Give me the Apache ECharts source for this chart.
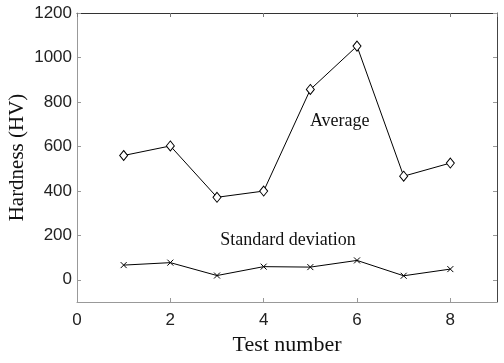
<!DOCTYPE html>
<html><head><meta charset="utf-8">
<script src="https://cdn.jsdelivr.net/npm/echarts@6/dist/echarts.min.js"></script>
<style>html,body{margin:0;padding:0;background:#fff}#c{width:504px;height:363px}</style>
</head><body><div id="c"></div>
<script>
const testNumbers = [1, 2, 3, 4, 5, 6, 7, 8];
const averageHV = [559, 602, 371, 399, 856, 1051, 466, 525];
const stdDevHV = [66, 77, 19, 59, 57, 87, 18, 48];
const yTickValues = [0, 200, 400, 600, 800, 1000, 1200];
const averageLabel = {text: 'Average', x: 5.63, y: 713};
const stdLabel = {text: 'Standard deviation', x: 4.52, y: 176};

const serif = 'Liberation Serif';
const sans = 'Liberation Sans';
const crossPath = 'path://M0,0L10,10M10,0L0,10';

const chart = echarts.init(document.getElementById('c'), null, {renderer: 'canvas'});
const pair = (xs, ys) => xs.map((x, i) => [x, ys[i]]);
const plain = v => String(v);

chart.setOption({
  animation: false,
  backgroundColor: '#fff',
  grid: {left: 77, right: 7, top: 13, bottom: 61, containLabel: false, outerBoundsMode: 'none'},
  xAxis: [{
    type: 'value', min: 0, max: 9, interval: 2,
    name: 'Test number', nameLocation: 'middle', nameGap: 32,
    nameTextStyle: {fontFamily: serif, fontSize: 22, color: '#111'},
    axisLine: {show: true, onZero: false, lineStyle: {color: '#999', width: 1}},
    axisTick: {show: true, inside: true, length: 4, lineStyle: {color: '#999'}},
    axisLabel: {fontFamily: sans, fontSize: 17, color: '#222', margin: 10, showMaxLabel: false, formatter: plain},
    splitLine: {show: false}
  }, {
    type: 'value', min: 0, max: 9, interval: 2, position: 'top',
    axisLine: {show: true, onZero: false, lineStyle: {color: '#333', width: 1}},
    axisTick: {show: true, inside: true, length: 4, lineStyle: {color: '#777'}},
    axisLabel: {show: false}, splitLine: {show: false}
  }],
  yAxis: [{
    type: 'value', min: -100, max: 1200,
    name: 'Hardness (HV)', nameLocation: 'middle', nameGap: 49, nameMoveOverlap: false,
    nameTextStyle: {fontFamily: serif, fontSize: 21, color: '#111'},
    axisLine: {show: true, onZero: false, lineStyle: {color: '#999', width: 1}},
    axisTick: {show: true, inside: true, length: 4, lineStyle: {color: '#999'}, customValues: yTickValues},
    axisLabel: {fontFamily: sans, fontSize: 17, color: '#222', margin: 5, customValues: yTickValues, formatter: plain},
    splitLine: {show: false}
  }, {
    type: 'value', min: -100, max: 1200, position: 'right',
    axisLine: {show: true, onZero: false, lineStyle: {color: '#444', width: 1}},
    axisTick: {show: true, inside: true, length: 4, lineStyle: {color: '#999'}, customValues: yTickValues},
    axisLabel: {show: false}, splitLine: {show: false}
  }],
  series: [{
    name: 'Average', type: 'line', xAxisIndex: 0, yAxisIndex: 0,
    data: pair(testNumbers, averageHV),
    symbol: 'diamond', symbolSize: [8, 10],
    lineStyle: {color: '#000', width: 1},
    itemStyle: {color: '#fff', borderColor: '#000', borderWidth: 1}
  }, {
    name: 'Standard deviation', type: 'line', xAxisIndex: 0, yAxisIndex: 0,
    data: pair(testNumbers, stdDevHV),
    symbol: crossPath, symbolSize: 6,
    lineStyle: {color: '#000', width: 1},
    itemStyle: {color: '#000', borderColor: '#000', borderWidth: 1}
  }]
});

const labelGraphic = l => {
  const p = chart.convertToPixel({xAxisIndex: 0, yAxisIndex: 0}, [l.x, l.y]);
  return {type: 'text', x: p[0], y: p[1], silent: true,
    style: {text: l.text, fontFamily: serif, fontSize: 18, fill: '#111', align: 'center', verticalAlign: 'middle'}};
};
chart.setOption({graphic: [labelGraphic(averageLabel), labelGraphic(stdLabel)]});
</script></body></html>
